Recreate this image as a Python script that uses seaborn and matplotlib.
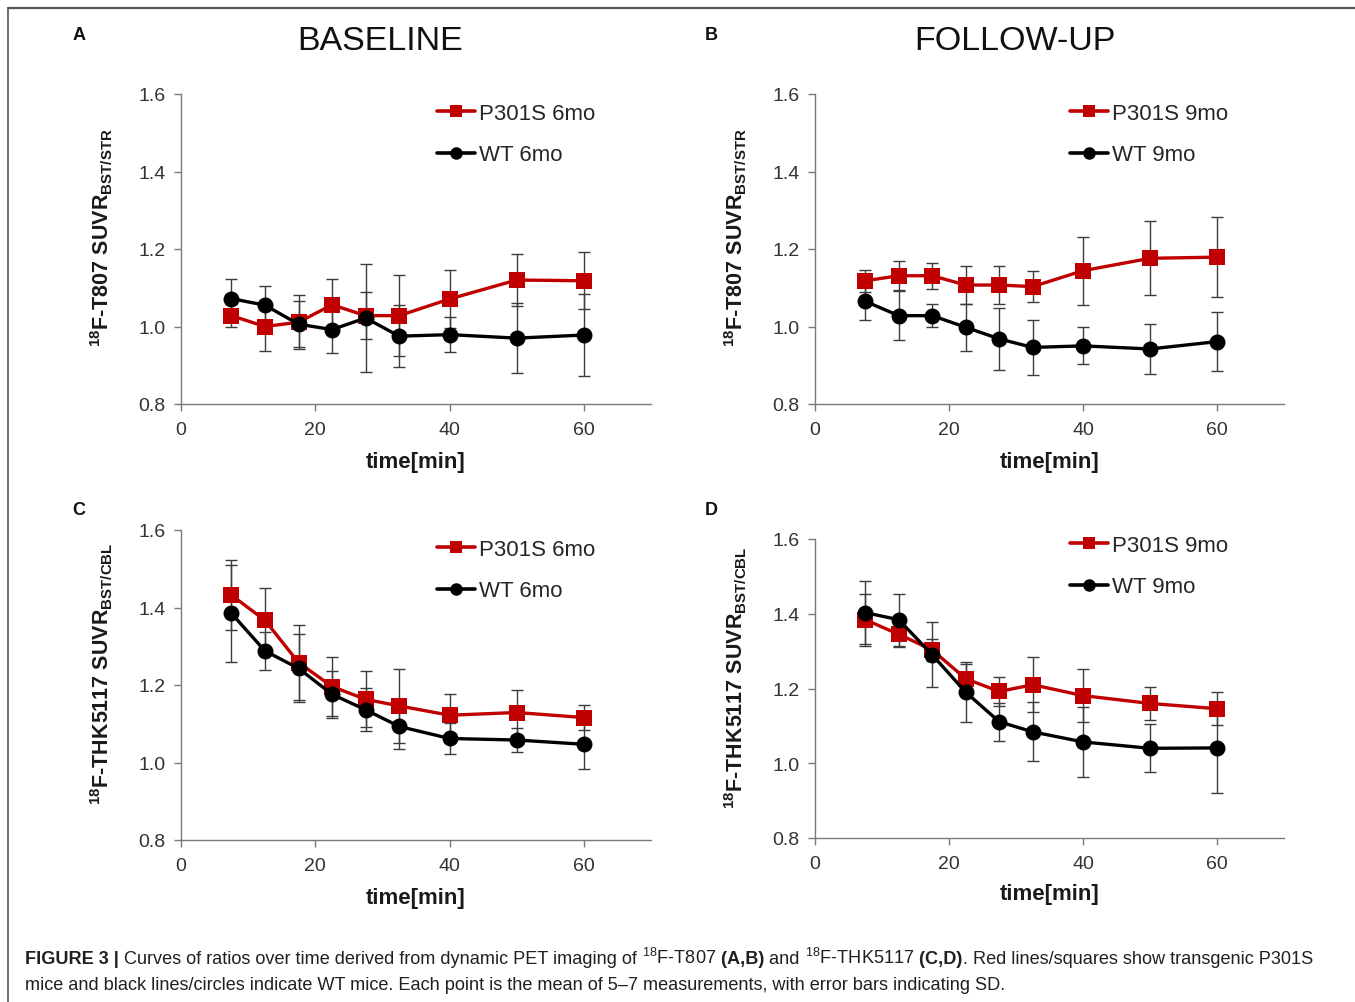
import numpy as np
import pandas as pd
import matplotlib
matplotlib.use('Agg')
import matplotlib.pyplot as plt
import seaborn as sns
from matplotlib.lines import Line2D

# 样式：seaborn 会重置字体，所以放在 set_theme 之后
sns.set_theme(style='ticks')
plt.rcParams['font.family'] = ['Liberation Sans', 'DejaVu Sans']
plt.rcParams['mathtext.fontset'] = 'custom'
plt.rcParams['mathtext.rm'] = 'Liberation Sans'
plt.rcParams['mathtext.it'] = 'Liberation Sans:italic'
plt.rcParams['mathtext.bf'] = 'Liberation Sans:bold'

# ================== 数据（从图上读出的均值和 SD） ==================
time_min = [7.5, 12.5, 17.5, 22.5, 27.5, 32.5, 40, 50, 60]

# A: 18F-T807 baseline
a_p301s = [1.028, 1.000, 1.011, 1.056, 1.028, 1.028, 1.071, 1.120, 1.118]
a_p301s_sd = [0.030, 0.064, 0.070, 0.067, 0.060, 0.105, 0.075, 0.068, 0.074]
a_wt = [1.072, 1.055, 1.006, 0.992, 1.022, 0.975, 0.979, 0.970, 0.978]
a_wt_sd = [0.050, 0.050, 0.060, 0.060, 0.140, 0.080, 0.046, 0.090, 0.105]

# B: 18F-T807 follow-up
b_p301s = [1.118, 1.131, 1.131, 1.107, 1.107, 1.103, 1.144, 1.176, 1.179]
b_p301s_sd = [0.028, 0.038, 0.033, 0.050, 0.050, 0.039, 0.088, 0.095, 0.104]
b_wt = [1.065, 1.028, 1.028, 0.998, 0.968, 0.946, 0.950, 0.942, 0.961]
b_wt_sd = [0.047, 0.063, 0.030, 0.060, 0.080, 0.072, 0.048, 0.064, 0.077]

# C: 18F-THK5117 baseline
c_p301s = [1.432, 1.367, 1.258, 1.196, 1.163, 1.146, 1.122, 1.129, 1.116]
c_p301s_sd = [0.090, 0.083, 0.097, 0.075, 0.072, 0.095, 0.054, 0.058, 0.033]
c_wt = [1.385, 1.288, 1.243, 1.176, 1.136, 1.093, 1.062, 1.058, 1.047]
c_wt_sd = [0.125, 0.050, 0.088, 0.060, 0.055, 0.057, 0.041, 0.032, 0.064]

# D: 18F-THK5117 follow-up
d_p301s = [1.384, 1.345, 1.303, 1.226, 1.192, 1.210, 1.181, 1.160, 1.146]
d_p301s_sd = [0.070, 0.035, 0.030, 0.040, 0.038, 0.073, 0.070, 0.043, 0.044]
d_wt = [1.403, 1.384, 1.290, 1.190, 1.111, 1.084, 1.057, 1.040, 1.041]
d_wt_sd = [0.085, 0.070, 0.087, 0.080, 0.051, 0.079, 0.094, 0.064, 0.121]

x_ticks = [0, 20, 40, 60]
y_ticks = [0.8, 1.0, 1.2, 1.4, 1.6]

RED = '#C00000'
W, H = 1355, 1003

fig = plt.figure(figsize=(W / 100, H / 100), dpi=100)
fig.patch.set_facecolor('white')


def px_axes(left, top, right, bottom):
    return fig.add_axes([left / W, 1 - bottom / H, (right - left) / W, (bottom - top) / H])


def draw_panel(ax, tg, tg_sd, wt, wt_sd, age, ylabel, leg_xy):
    lab_tg = f'P301S {age}'
    lab_wt = f'WT {age}'
    n = len(time_min)
    df = pd.DataFrame({
        'time': time_min * 2,
        'suvr': tg + wt,
        'sd': tg_sd + wt_sd,
        'group': [lab_tg] * n + [lab_wt] * n,
    })
    # SD 误差棒（在线下面）
    for _, sub in df.groupby('group', sort=False):
        ax.errorbar(sub['time'], sub['suvr'], yerr=sub['sd'], fmt='none',
                    ecolor='#3c3c3c', elinewidth=1.0, capsize=4.2, capthick=1.0, zorder=1)
    sns.lineplot(data=df, x='time', y='suvr', hue='group', style='group',
                 palette={lab_tg: RED, lab_wt: 'black'},
                 markers={lab_tg: 's', lab_wt: 'o'}, dashes=False,
                 errorbar=None, linewidth=2.4, markersize=11.5, markeredgewidth=0,
                 ax=ax, zorder=3)

    ax.set_xlim(0, 70)
    ax.set_ylim(0.8, 1.6)
    ax.set_xticks(x_ticks)
    ax.set_yticks(y_ticks)
    ax.set_yticklabels([f'{v:.1f}' for v in y_ticks])
    sns.despine(ax=ax)
    for s in ['left', 'bottom']:
        ax.spines[s].set_color('#7a7a7a')
        ax.spines[s].set_linewidth(1.0)
    ax.tick_params(direction='out', length=5, width=1, colors='#7a7a7a',
                   labelcolor='#333333', labelsize=14)
    ax.tick_params(axis='x', pad=7)
    ax.tick_params(axis='y', pad=6)

    ax.set_xlabel('time[min]', fontsize=16, fontweight='bold', color='#1a1a1a')
    ax.xaxis.set_label_coords(0.5, -0.152)
    ax.set_ylabel(ylabel, fontsize=15.5, fontweight='bold', color='#1a1a1a')
    ax.yaxis.set_label_coords(-0.14, 0.54)

    old = ax.get_legend()
    handles, labels = [], []
    for h, t in zip(old.legend_handles, old.get_texts()):
        if t.get_text() in (lab_tg, lab_wt):
            h.set_linewidth(2.6)
            h.set_markersize(9)
            h.set_markeredgewidth(0)
            handles.append(h)
            labels.append(t.get_text())
    old.remove()
    ax.legend(handles, labels, loc='upper left', frameon=False, fontsize=16,
              handlelength=1.7, handletextpad=0.18, labelspacing=0.92,
              borderpad=0, borderaxespad=0,
              bbox_to_anchor=(leg_xy[0] / W, 1 - leg_xy[1] / H),
              bbox_transform=fig.transFigure)


lab_t807 = r'$^{\mathbf{18}}$F-T807 SUVR$_{\mathbf{BST/STR}}$'
lab_thk = r'$^{\mathbf{18}}$F-THK5117 SUVR$_{\mathbf{BST/CBL}}$'

ax_a = px_axes(181, 95, 651, 405)
ax_b = px_axes(815, 95, 1284, 405)
ax_c = px_axes(181, 531, 651, 841)
ax_d = px_axes(815, 540, 1284, 839)

draw_panel(ax_a, a_p301s, a_p301s_sd, a_wt, a_wt_sd, '6mo', lab_t807, (437, 104))
draw_panel(ax_b, b_p301s, b_p301s_sd, b_wt, b_wt_sd, '9mo', lab_t807, (1070, 104))
draw_panel(ax_c, c_p301s, c_p301s_sd, c_wt, c_wt_sd, '6mo', lab_thk, (437, 540))
draw_panel(ax_d, d_p301s, d_p301s_sd, d_wt, d_wt_sd, '9mo', lab_thk, (1070, 536))

# 标题和面板字母
fig.text(380 / W, 1 - 42 / H, 'BASELINE', ha='center', va='center', fontsize=24.5, color='#111111')
fig.text(1015 / W, 1 - 42 / H, 'FOLLOW-UP', ha='center', va='center', fontsize=24.5, color='#111111')
for letter, (lx, ly) in zip('ABCD', [(79, 35), (711, 35), (79, 511), (711, 511)]):
    fig.text(lx / W, 1 - ly / H, letter, ha='center', va='center', fontsize=13,
             fontweight='bold', color='#111111')

# 外框线
fig.add_artist(Line2D([8 / W, 1], [1 - 9 / H, 1 - 9 / H], transform=fig.transFigure,
                      color='#555555', lw=1.6))
fig.add_artist(Line2D([8 / W, 8 / W], [0, 1 - 9 / H], transform=fig.transFigure,
                      color='#555555', lw=1.2))

# ================== 图注（混合粗体） ==================
line1 = [('FIGURE 3 |', 'bold'),
         (' Curves of ratios over time derived from dynamic PET imaging of ', 'normal'),
         ('$^{18}$F-T807', 'normal'), (' (A,B)', 'bold'), (' and ', 'normal'),
         ('$^{18}$F-THK5117', 'normal'), (' (C,D)', 'bold'),
         ('. Red lines/squares show transgenic P301S', 'normal')]
line2 = [('mice and black lines/circles indicate WT mice. Each point is the mean of '
          '5\u20137 measurements, with error bars indicating SD.', 'normal')]

renderer = fig.canvas.get_renderer()


def put_runs(x, y, runs, size):
    arts = []
    for txt, wt in runs:
        t = fig.text(x, y, txt, fontsize=size, fontweight=wt, ha='left', va='baseline',
                     color='#231f20')
        x += t.get_window_extent(renderer=renderer).width / fig.bbox.width
        arts.append(t)
    return x, arts


x0 = 25 / W
end, tmp = put_runs(x0, 0.5, line1, 12)
for t in tmp:
    t.remove()
size = 12 * ((1315 - 25) / W) / (end - x0)
put_runs(x0, 1 - 964 / H, line1, size)
put_runs(x0, 1 - 990 / H, line2, size)

fig.savefig('out.png', dpi=100)
